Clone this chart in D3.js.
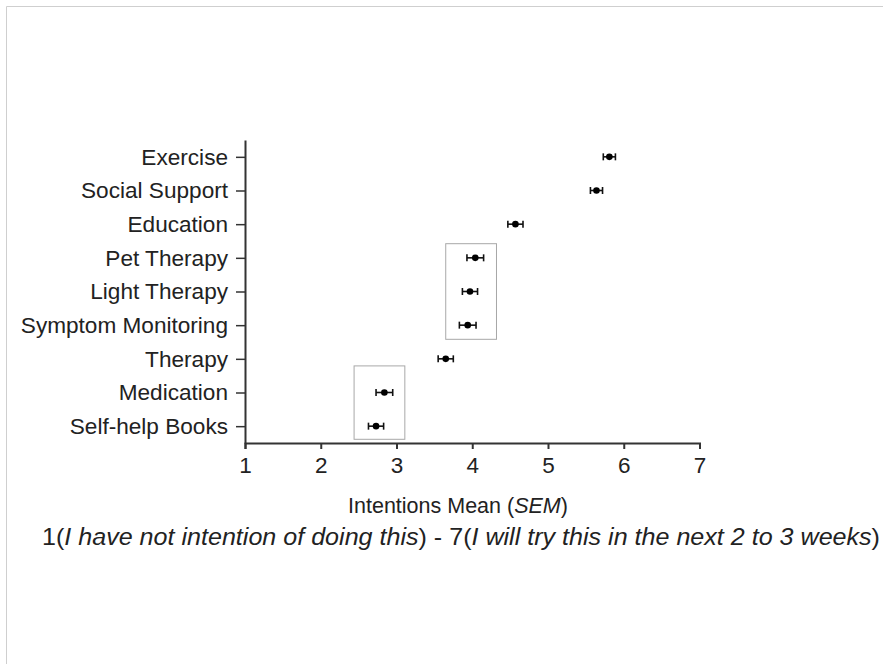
<!DOCTYPE html>
<html>
<head>
<meta charset="utf-8">
<script src="https://cdn.jsdelivr.net/npm/d3@7"></script>
<style>
  html, body { margin: 0; padding: 0; background: #fff; }
  svg { display: block; font-family: "Liberation Sans", Arial, sans-serif; }
</style>
</head>
<body>
<svg id="chart" width="883" height="664"></svg>
<script>
// Intervention categories, top to bottom
const categories = [
  "Exercise", "Social Support", "Education", "Pet Therapy", "Light Therapy",
  "Symptom Monitoring", "Therapy", "Medication", "Self-help Books"
];
// Mean intention score and standard error of the mean
const means = [5.81, 5.64, 4.57, 4.04, 3.97, 3.94, 3.65, 2.84, 2.73];
const sems  = [0.08, 0.08, 0.10, 0.11, 0.10, 0.11, 0.10, 0.11, 0.10];
// Tick values on the intention scale
const xTicks = [1, 2, 3, 4, 5, 6, 7];
// Highlight groups: value span and row span (row index units)
const groupLo   = [3.65, 2.44];
const groupHi   = [4.32, 3.11];
const groupRow0 = [2.58, 6.21];
const groupRow1 = [5.42, 8.39];

const svg = d3.select("#chart");
const ink = "#222";

// page frame
svg.append("path")
  .attr("d", "M6.5,664 V6.5 H883")
  .attr("fill", "none").attr("stroke", "#cfcfcf").attr("stroke-width", 1);

const x = d3.scaleLinear().domain([1, 7]).range([245, 699.5]);
const y = d3.scalePoint().domain(categories).range([140, 443]).padding(0.5);
const yRow = d3.scaleLinear().domain([-0.5, categories.length - 0.5]).range([140, 443]);

// highlight boxes
svg.append("g").selectAll("rect")
  .data(d3.range(groupLo.length))
  .join("rect")
  .attr("x", i => x(groupLo[i]))
  .attr("y", i => yRow(groupRow0[i]))
  .attr("width", i => x(groupHi[i]) - x(groupLo[i]))
  .attr("height", i => yRow(groupRow1[i]) - yRow(groupRow0[i]))
  .attr("fill", "none").attr("stroke", "#a8a8a8").attr("stroke-width", 1);

// x axis
const gx = svg.append("g").attr("transform", "translate(0,443)")
  .call(d3.axisBottom(x).tickValues(xTicks).tickFormat(d3.format("d"))
    .tickSize(6).tickSizeOuter(6).tickPadding(8));
gx.select(".domain").attr("stroke", "#333").attr("stroke-width", 2);
gx.selectAll(".tick line").attr("stroke", "#333").attr("stroke-width", 2);
gx.selectAll(".tick text").attr("fill", ink).attr("font-size", 22.5)
  .attr("font-family", "'Liberation Sans', Arial, sans-serif");

// y axis
const gy = svg.append("g").attr("transform", "translate(245,0)")
  .call(d3.axisLeft(y).tickSize(9).tickSizeOuter(0).tickPadding(8));
gy.select(".domain").attr("stroke", "#333").attr("stroke-width", 2);
gy.selectAll(".tick line").attr("stroke", "#333").attr("stroke-width", 1.5);
gy.selectAll(".tick text").attr("fill", ink).attr("font-size", 22.6)
  .attr("font-family", "'Liberation Sans', Arial, sans-serif");

// error bars and means
const marks = svg.append("g").selectAll("g")
  .data(categories.map((c, i) => ({ c, m: means[i], s: sems[i] })))
  .join("g");
marks.append("line")
  .attr("x1", d => x(d.m - d.s)).attr("x2", d => x(d.m + d.s))
  .attr("y1", d => y(d.c)).attr("y2", d => y(d.c))
  .attr("stroke", "#111").attr("stroke-width", 1.6);
marks.selectAll(".cap")
  .data(d => [d.m - d.s, d.m + d.s].map(v => ({ v, c: d.c })))
  .join("line").attr("class", "cap")
  .attr("x1", d => x(d.v)).attr("x2", d => x(d.v))
  .attr("y1", d => y(d.c) - 3.5).attr("y2", d => y(d.c) + 3.5)
  .attr("stroke", "#111").attr("stroke-width", 1.6);
marks.append("circle")
  .attr("cx", d => x(d.m)).attr("cy", d => y(d.c)).attr("r", 3.3)
  .attr("fill", "#000");

// axis title
const title = svg.append("text")
  .attr("x", 458).attr("y", 513).attr("text-anchor", "middle")
  .attr("font-size", 21.5).attr("fill", ink);
title.append("tspan").text("Intentions Mean (");
title.append("tspan").attr("font-style", "italic").text("SEM");
title.append("tspan").text(")");

// scale description
const sub = svg.append("text")
  .attr("x", 42).attr("y", 545)
  .attr("textLength", 838).attr("lengthAdjust", "spacingAndGlyphs")
  .attr("font-family", "'Liberation Sans Narrow', 'Liberation Sans', Arial, sans-serif")
  .attr("font-size", 24.5).attr("fill", ink);
sub.append("tspan").text("1(");
sub.append("tspan").attr("font-style", "italic").text("I have not intention of doing this");
sub.append("tspan").text(") - 7(");
sub.append("tspan").attr("font-style", "italic").text("I will try this in the next 2 to 3 weeks");
sub.append("tspan").text(")");
</script>
</body>
</html>
